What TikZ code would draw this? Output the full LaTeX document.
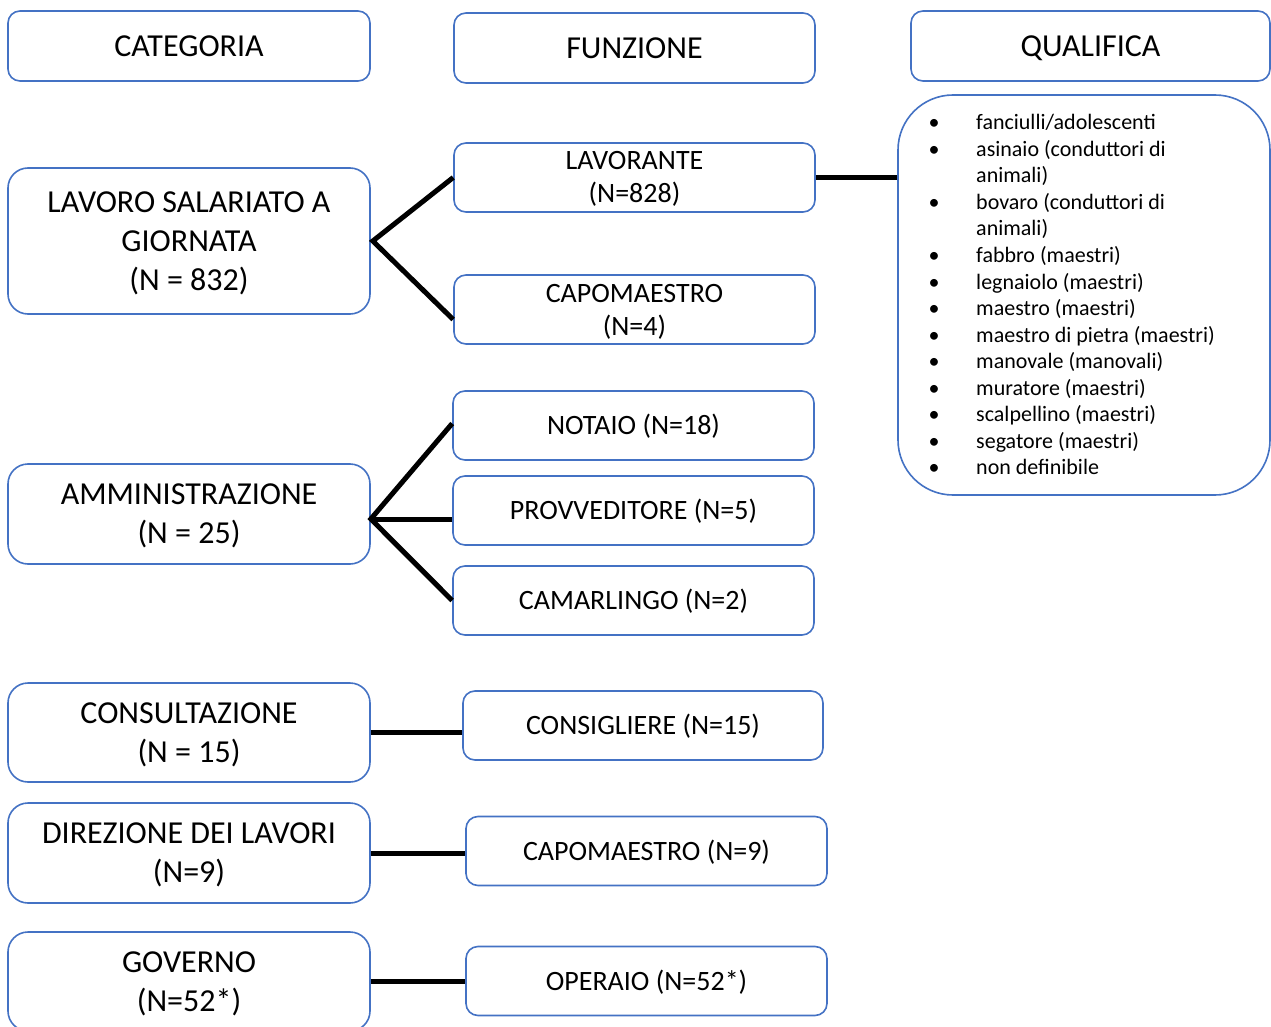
\documentclass[tikz,border=0pt]{standalone}
\usepackage{fontspec}
\setmainfont{Carlito}
\definecolor{boxblue}{RGB}{68,114,196}
\begin{document}
\begin{tikzpicture}[x=1pt,y=-1pt,
 box/.style={draw=boxblue,line width=1.6pt,fill=white,rounded corners=12pt,inner sep=0pt,align=center},
 cat/.style={box,rounded corners=20pt,font=\fontsize{32}{39}\selectfont,minimum width=362pt,text depth=0pt},
 fun/.style={box,font=\fontsize{28}{33}\selectfont,minimum width=361pt,minimum height=69pt,text height=18pt,text depth=0pt},
 hdr/.style={box,font=\fontsize{32}{35}\selectfont,minimum height=70pt,text height=20.6pt,text depth=0pt},
 cat2/.style={cat,text height=59.6pt},
 cat3/.style={cat,text height=98.6pt},
 fun2/.style={fun,text height=51pt},
 conn/.style={line width=5pt,black},
 itm/.style={anchor=base west,inner sep=0pt,font=\fontsize{22}{26}\selectfont},
 bul/.style={anchor=base,inner sep=0pt,font=\fontsize{22}{26}\selectfont}]
\clip (0,0) rectangle (1271,1027);
\fill[white] (0,0) rectangle (1271,1027);
% headers
\node[hdr,minimum width=362pt] (hcat) at (189,46) {CATEGORIA};
\node[hdr,minimum width=361pt] (hfun) at (634.5,48) {FUNZIONE};
\node[hdr,minimum width=359pt] (hqual) at (1090.5,46) {QUALIFICA};
% categories
\node[cat3,minimum height=146pt] (lav) at (189,241) {LAVORO SALARIATO A\\GIORNATA\\(N = 832)};
\node[cat2,minimum height=100pt] (amm) at (189,514) {AMMINISTRAZIONE\\(N = 25)};
\node[cat2,minimum height=99pt] (cons) at (189,732.5) {CONSULTAZIONE\\(N = 15)};
\node[cat2,minimum height=100pt] (dir) at (189,853) {DIREZIONE DEI LAVORI\\(N=9)};
\node[cat2,minimum height=99pt] (gov) at (189,981.5) {GOVERNO\\(N=52*)};
% functions
\node[fun2] (lavorante) at (634.5,177.5) {LAVORANTE\\(N=828)};
\node[fun2] (capo4) at (634.5,309.5) {CAPOMAESTRO\\(N=4)};
\node[fun] (notaio) at (633.5,425.5) {NOTAIO (N=18)};
\node[fun] (provv) at (633.5,510.5) {PROVVEDITORE (N=5)};
\node[fun] (camar) at (633.5,600.5) {CAMARLINGO (N=2)};
\node[fun,minimum width=360pt] (consig) at (643,725.5) {CONSIGLIERE (N=15)};
\node[fun] (capo9) at (646.5,851) {CAPOMAESTRO (N=9)};
\node[fun] (oper) at (646.5,981) {OPERAIO (N=52*)};
% qualifica list
\node[box,rounded corners=55pt,minimum width=372pt,minimum height=400pt] (qlist) at (1084,295) {};
\node[bul] (b0) at (934,130) {•};
\node[itm] (q0) at (976,130) {fanciulli/adolescenti};
\node[bul] (b1) at (934,156.5) {•};
\node[itm] (q1) at (976,156.5) {asinaio (conduttori di};
\node[itm] (q2) at (976,183) {animali)};
\node[bul] (b2) at (934,209.5) {•};
\node[itm] (q3) at (976,209.5) {bovaro (conduttori di};
\node[itm] (q4) at (976,236) {animali)};
\node[bul] (b3) at (934,262.5) {•};
\node[itm] (q5) at (976,262.5) {fabbro (maestri)};
\node[bul] (b4) at (934,289) {•};
\node[itm] (q6) at (976,289) {legnaiolo (maestri)};
\node[bul] (b5) at (934,315.5) {•};
\node[itm] (q7) at (976,315.5) {maestro (maestri)};
\node[bul] (b6) at (934,342) {•};
\node[itm] (q8) at (976,342) {maestro di pietra (maestri)};
\node[bul] (b7) at (934,368.5) {•};
\node[itm] (q9) at (976,368.5) {manovale (manovali)};
\node[bul] (b8) at (934,395) {•};
\node[itm] (q10) at (976,395) {muratore (maestri)};
\node[bul] (b9) at (934,421.5) {•};
\node[itm] (q11) at (976,421.5) {scalpellino (maestri)};
\node[bul] (b10) at (934,448) {•};
\node[itm] (q12) at (976,448) {segatore (maestri)};
\node[bul] (b11) at (934,474.5) {•};
\node[itm] (q13) at (976,474.5) {non definibile};
% connectors
\coordinate (lavj) at ([xshift=2pt]lav.east);
\draw[conn] (lavorante.west) -- (lavj) -- ([yshift=-10pt]capo4.west);
\coordinate (ammj) at ([yshift=-5pt]amm.east);
\draw[conn] ([yshift=2pt]notaio.west) -- (ammj) -- (camar.west);
\draw[conn] (ammj) -- (ammj -| provv.west);
\draw[conn] (cons.east) -- (cons.east -| consig.west);
\draw[conn] (dir.east) -- (dir.east -| capo9.west);
\draw[conn] (gov.east) -- (gov.east -| oper.west);
\draw[conn] (lavorante.east) -- (lavorante.east -| qlist.west);
\end{tikzpicture}
\end{document}
